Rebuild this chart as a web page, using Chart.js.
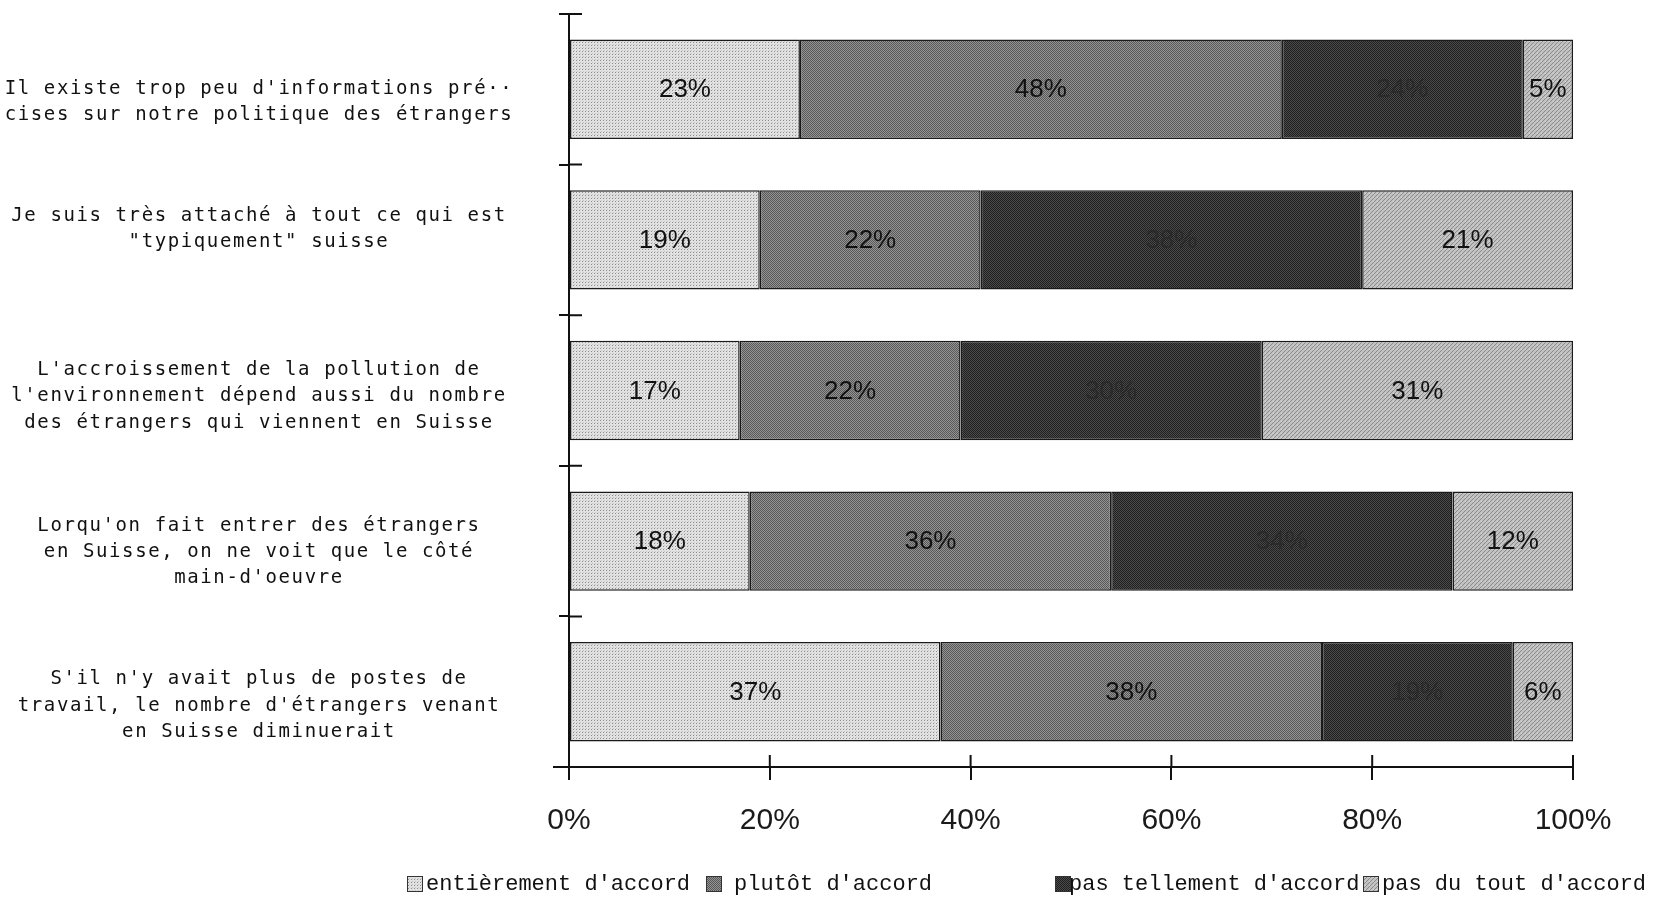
<!DOCTYPE html>
<html>
<head>
<meta charset="utf-8">
<script src="https://cdn.jsdelivr.net/npm/chart.js@4/dist/chart.umd.min.js"></script>
<style>
  html, body { margin: 0; padding: 0; background: #ffffff; }
  #wrap { width: 1657px; height: 898px; position: relative; }
</style>
</head>
<body>
<div id="wrap"><canvas id="c" width="1657" height="898"></canvas></div>
<script>
// ---------- DATA ----------
const categories = [
  ["Il existe trop peu d'informations pré··", "cises sur notre politique des étrangers"],
  ["Je suis très attaché à tout ce qui est", "\"typiquement\" suisse"],
  ["L'accroissement de la pollution de", "l'environnement dépend aussi du nombre", "des étrangers qui viennent en Suisse"],
  ["Lorqu'on fait entrer des étrangers", "en Suisse, on ne voit que le côté", "main-d'oeuvre"],
  ["S'il n'y avait plus de postes de", "travail, le nombre d'étrangers venant", "en Suisse diminuerait"]
];
const seriesNames = ["entièrement d'accord", "plutôt d'accord", "pas tellement d'accord", "pas du tout d'accord"];
const entierement = [23, 19, 17, 18, 37];
const plutot      = [48, 22, 22, 36, 38];
const pasTellement= [24, 38, 30, 34, 19];
const pasDuTout   = [5, 21, 31, 12, 6];
const xTicks = [0, 20, 40, 60, 80, 100];

// ---------- STYLE ----------
const labelOffsets = [13, -11, 6, 11, 14];
const labelCenterX = 259;
const legendX = [407, 706, 1055, 1363];
const legendTextGap = [19, 28, 14, 19];

function makePattern(kind) {
  const c = document.createElement('canvas');
  const x = c.getContext('2d');
  if (kind === 0) {
    c.width = 3; c.height = 3;
    x.fillStyle = '#e2e2e2'; x.fillRect(0, 0, 3, 3);
    x.fillStyle = '#8c8c8c'; x.fillRect(0, 0, 1, 1);
    x.fillStyle = '#c4c4c4'; x.fillRect(1, 2, 1, 1);
  } else if (kind === 1) {
    c.width = 2; c.height = 2;
    x.fillStyle = '#949494'; x.fillRect(0, 0, 2, 2);
    x.fillStyle = '#585858'; x.fillRect(0, 0, 1, 1); x.fillRect(1, 1, 1, 1);
  } else if (kind === 2) {
    c.width = 2; c.height = 2;
    x.fillStyle = '#4a4a4a'; x.fillRect(0, 0, 2, 2);
    x.fillStyle = '#202020'; x.fillRect(0, 0, 1, 1); x.fillRect(1, 1, 1, 1);
  } else {
    c.width = 4; c.height = 4;
    x.fillStyle = '#c2c2c2'; x.fillRect(0, 0, 4, 4);
    x.fillStyle = '#8a8a8a';
    for (let i = 0; i < 4; i++) x.fillRect(3 - i, i, 1, 1);
    x.fillStyle = '#d8d8d8'; x.fillRect(1, 1, 1, 1);
  }
  return document.getElementById('c').getContext('2d').createPattern(c, 'repeat');
}
const fills = [makePattern(0), makePattern(1), makePattern(2), makePattern(3)];
const seriesData = [entierement, plutot, pasTellement, pasDuTout];

const datasets = seriesNames.map((name, i) => ({
  label: name,
  data: seriesData[i],
  backgroundColor: fills[i],
  borderColor: '#1a1a1a',
  borderWidth: 1.5,
  borderSkipped: false,
  barPercentage: 0.66,
  categoryPercentage: 1.0
}));

const ink = '#111111';

const decorPlugin = {
  id: 'decor',
  afterDatasetsDraw(chart) {
    const ctx = chart.ctx;
    ctx.save();
    ctx.font = '26px "Liberation Sans", Arial, sans-serif';
    ctx.textAlign = 'center';
    ctx.textBaseline = 'middle';
    chart.data.datasets.forEach((ds, di) => {
      const meta = chart.getDatasetMeta(di);
      meta.data.forEach((el, i) => {
        const p = el.getProps(['x', 'y', 'base'], true);
        const cx = (p.x + p.base) / 2;
        ctx.fillStyle = di === 2 ? '#2a2a2a' : ink;
        ctx.fillText(ds.data[i] + '%', cx, p.y + 1);
      });
    });
    ctx.restore();
  },
  afterDraw(chart) {
    const ctx = chart.ctx;
    const xs = chart.scales.x, ys = chart.scales.y;
    const area = chart.chartArea;
    ctx.save();
    ctx.strokeStyle = ink;
    ctx.lineWidth = 2;
    ctx.beginPath();
    xTicks.forEach(v => {
      const px = xs.getPixelForValue(v);
      ctx.moveTo(px, area.bottom - 12);
      ctx.lineTo(px, area.bottom);
    });
    ctx.moveTo(area.left - 16, area.bottom);
    ctx.lineTo(area.left, area.bottom);
    ctx.moveTo(area.left, area.bottom);
    ctx.lineTo(area.left, area.bottom + 11);
    for (let i = 0; i < categories.length; i++) {
      const py = ys.getPixelForValue(i - 0.5);
      ctx.moveTo(area.left, py);
      ctx.lineTo(area.left + 13, py);
    }
    ctx.stroke();
    ctx.restore();

    // category labels
    ctx.save();
    ctx.font = '19px "DejaVu Sans Mono", monospace';
    ctx.fillStyle = ink;
    ctx.textAlign = 'center';
    ctx.textBaseline = 'middle';
    try { ctx.letterSpacing = '1.6px'; } catch (e) {}
    categories.forEach((lines, i) => {
      const cy = ys.getPixelForValue(i) + labelOffsets[i];
      const lh = 26.3;
      const y0 = cy - (lines.length - 1) * lh / 2;
      lines.forEach((ln, k) => ctx.fillText(ln, labelCenterX, y0 + k * lh));
    });
    ctx.restore();

    // legend
    ctx.save();
    ctx.font = '22px "Liberation Mono", "Courier New", monospace';
    ctx.textBaseline = 'middle';
    ctx.textAlign = 'left';
    const ly = 884;
    seriesNames.forEach((name, i) => {
      const bx = legendX[i];
      ctx.fillStyle = fills[i];
      ctx.fillRect(bx, ly - 8, 16, 16);
      ctx.strokeStyle = '#333';
      ctx.lineWidth = 1;
      ctx.strokeRect(bx + 0.5, ly - 7.5, 15, 15);
      ctx.fillStyle = ink;
      ctx.fillText(name, bx + legendTextGap[i], ly);
    });
    ctx.restore();
  }
};

new Chart(document.getElementById('c'), {
  type: 'bar',
  data: { labels: categories.map(c => c.join(' ')), datasets },
  options: {
    indexAxis: 'y',
    responsive: false,
    animation: false,
    layout: { padding: { left: 569, right: 84, top: 14, bottom: 0 } },
    plugins: {
      legend: { display: false },
      tooltip: { enabled: false },
      title: { display: false }
    },
    scales: {
      x: {
        stacked: true,
        min: 0, max: 100,
        afterFit: s => { s.height = 131; },
        afterBuildTicks: s => { s.ticks = xTicks.map(v => ({ value: v })); },
        border: { display: true, color: ink, width: 2 },
        grid: { display: true, drawOnChartArea: false, drawTicks: true, tickLength: 13, color: ink, lineWidth: 2 },
        ticks: {
          padding: 23,
          color: '#1a1a1a',
          font: { family: '"Liberation Sans", Arial, sans-serif', size: 30 },
          callback: v => v + '%'
        }
      },
      y: {
        stacked: true,
        afterFit: s => { s.width = 0; },
        border: { display: true, color: ink, width: 2 },
        grid: { display: true, drawOnChartArea: false, offset: true, tickLength: 10, color: ink, lineWidth: 2 },
        ticks: { display: false }
      }
    }
  },
  plugins: [decorPlugin]
});
</script>
</body>
</html>
